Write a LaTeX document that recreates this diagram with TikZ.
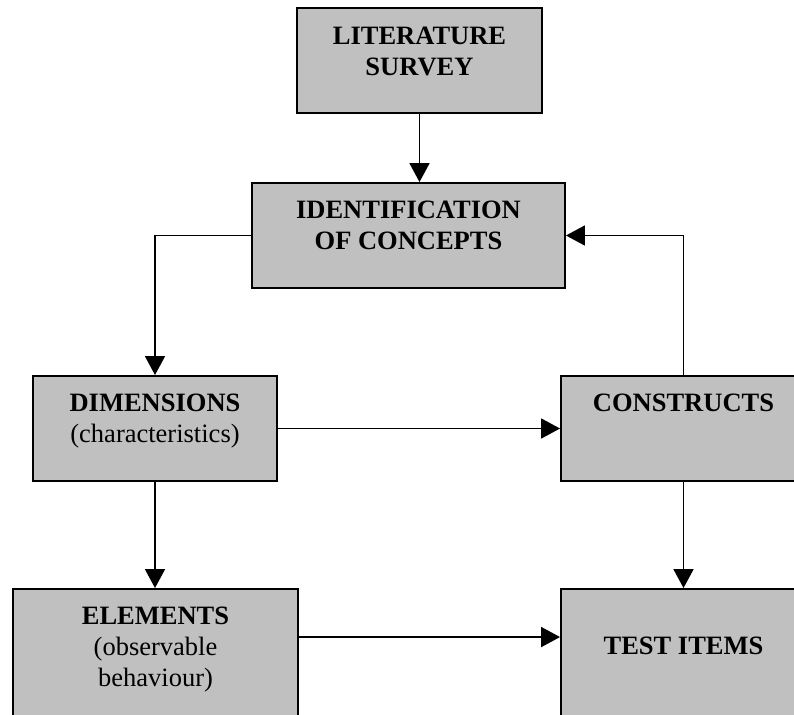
\documentclass[tikz,border=0pt]{standalone}
\usepackage{fontspec}
\setmainfont{Liberation Serif}
\usetikzlibrary{arrows.meta}
\definecolor{boxgray}{HTML}{C0C0C0}
\begin{document}
\begin{tikzpicture}[x=1pt,y=-1pt,
  box/.style={draw=black, line width=1.9pt, fill=boxgray, rectangle, inner sep=0pt},
  lbl/.style={anchor=north, inner sep=0pt, align=center, font=\fontsize{26.5}{31}\selectfont},
  arr/.style={line width=1.8pt, -{Triangle[length=19pt,width=20pt]}}]
\useasboundingbox (0,0) rectangle (794,714);
\clip (0,0) rectangle (794,714);
% boxes
\node[box, minimum width=245pt, minimum height=105pt] (lit) at (419.5,60.5) {};
\node[box, minimum width=313pt, minimum height=105pt] (ident) at (408.5,235.5) {};
\node[box, minimum width=244pt, minimum height=105pt] (dim) at (155,428.5) {};
\node[box, minimum width=245pt, minimum height=105pt] (cons) at (683.5,428.5) {};
\node[box, minimum width=285pt, minimum height=160pt] (elem) at (155.5,669) {};
\node[box, minimum width=245pt, minimum height=160pt] (test) at (683.5,669) {};
% texts
\node[lbl] (littxt) at ([yshift=-20pt]lit.north) {\textbf{LITERATURE}\\\textbf{SURVEY}};
\node[lbl] (identtxt) at ([yshift=-18.5pt]ident.north) {\textbf{IDENTIFICATION}\\\textbf{OF CONCEPTS}};
\node[lbl] (dimtxt) at ([yshift=-18.5pt]dim.north) {\textbf{DIMENSIONS}\\(characteristics)};
\node[lbl] (constxt) at ([yshift=-18.5pt]cons.north) {\textbf{CONSTRUCTS}};
\node[lbl] (elemtxt) at ([yshift=-19pt]elem.north) {\textbf{ELEMENTS}\\(observable\\behaviour)};
\node[lbl] (testtxt) at ([yshift=-49pt]test.north) {\textbf{TEST ITEMS}};
% connectors
\draw[arr] (lit.south) -- (lit.south |- ident.north);
\draw[arr] (ident.west) -| (dim.north);
\draw[arr] (cons.north) |- (ident.east);
\draw[arr] (dim.east) -- (cons.west);
\draw[arr] (dim.south) -- (dim.south |- elem.north);
\draw[arr] (cons.south) -- (test.north);
\draw[arr] ([yshift=-49pt]elem.north east) -- ([yshift=-49pt]test.north west);
\end{tikzpicture}
\end{document}
